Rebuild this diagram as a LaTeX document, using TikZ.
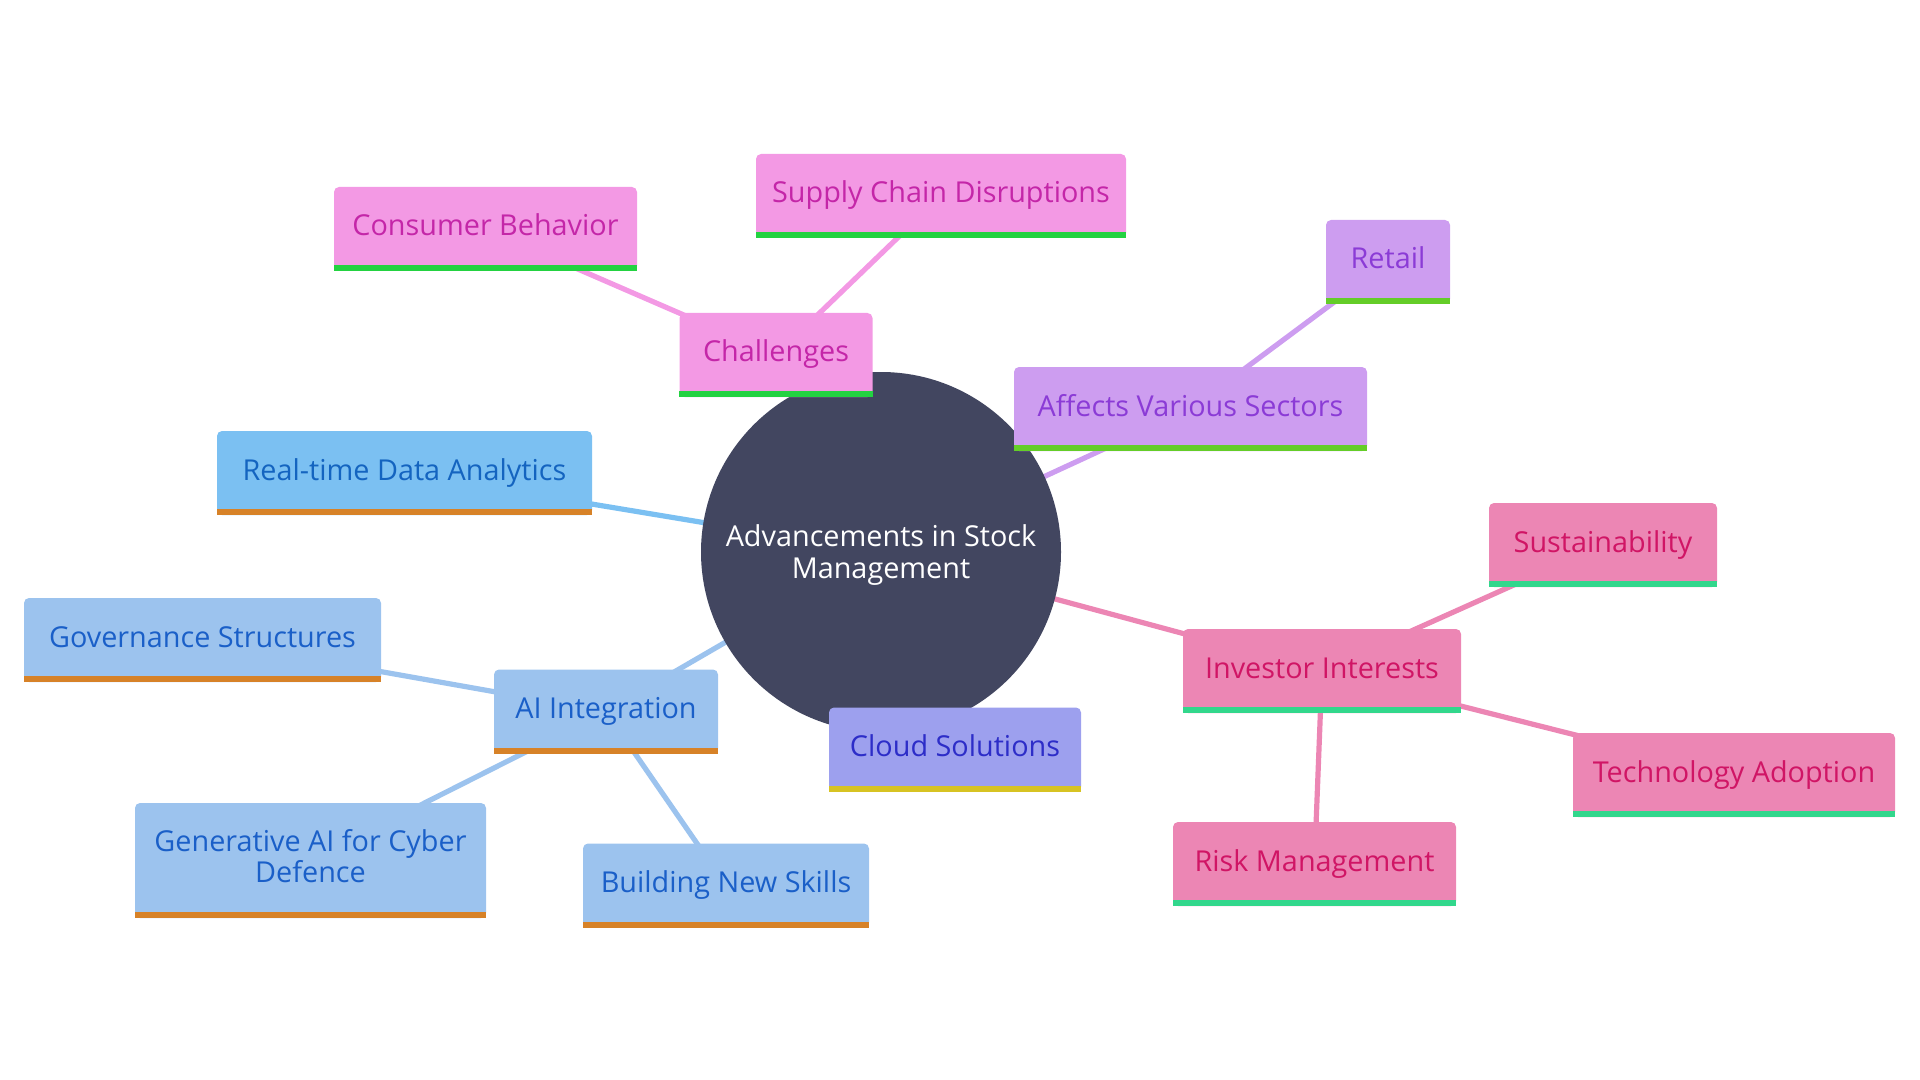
\documentclass[tikz,border=0pt]{standalone}
\usepackage{fontspec}
\setmainfont{Open Sans}
\definecolor{hub}{RGB}{66,70,96}
\definecolor{pinkF}{RGB}{243,153,228}
\definecolor{pinkT}{RGB}{196,38,168}
\definecolor{pinkB}{RGB}{35,210,65}
\definecolor{purF}{RGB}{205,157,240}
\definecolor{purT}{RGB}{139,59,214}
\definecolor{purB}{RGB}{100,205,40}
\definecolor{rtF}{RGB}{123,192,242}
\definecolor{rtT}{RGB}{20,100,192}
\definecolor{aiF}{RGB}{156,195,238}
\definecolor{aiT}{RGB}{26,95,200}
\definecolor{orB}{RGB}{215,130,40}
\definecolor{clF}{RGB}{157,160,238}
\definecolor{clT}{RGB}{45,45,200}
\definecolor{clB}{RGB}{215,195,35}
\definecolor{invF}{RGB}{236,134,180}
\definecolor{invT}{RGB}{208,21,101}
\definecolor{invB}{RGB}{50,215,140}
\pgfdeclarelayer{edges}
\pgfsetlayers{edges,main}
\begin{document}
\begin{tikzpicture}[x=0.5pt,y=-0.5pt,
  box/.style={rectangle, rounded corners=2.5pt, inner sep=0pt, minimum height=42pt,
    align=center, font=\fontsize{14.4pt}{15.7pt}\selectfont, text height=10pt, text depth=3pt},
  pinkbox/.style={box, fill=pinkF, text=pinkT},
  purbox/.style={box, fill=purF, text=purT},
  rtbox/.style={box, fill=rtF, text=rtT},
  aibox/.style={box, fill=aiF, text=aiT},
  clbox/.style={box, fill=clF, text=clT},
  invbox/.style={box, fill=invF, text=invT},
  edge/.style={line width=2.6pt},
  hubnode/.style={circle, fill=hub, text=white, inner sep=0pt, minimum size=180pt,
    align=center, font=\fontsize{14.4pt}{16pt}\selectfont, text height=29.5pt, text depth=3.5pt}
]
\useasboundingbox (0,0) rectangle (1920,1080);

\node[hubnode] (c) at (881,552) {Advancements in Stock\\Management};

\node[pinkbox, minimum width=96.5pt] (ch) at (776,355) {Challenges};
\node[pinkbox, minimum width=151.5pt] (cb) at (485.5,229) {Consumer Behavior};
\node[pinkbox, minimum width=185pt] (sc) at (941,196) {Supply Chain Disruptions};

\node[purbox, minimum width=62pt] (re) at (1388,262) {Retail};
\node[purbox, minimum width=176.5pt] (af) at (1190.5,409) {Affects Various Sectors};

\node[rtbox, minimum width=187.5pt] (rt) at (404.5,473) {Real-time Data Analytics};

\node[aibox, minimum width=178.5pt] (gov) at (202.5,640) {Governance Structures};
\node[aibox, minimum width=112pt] (ai) at (606,711.5) {AI Integration};
\node[aibox, minimum width=175.5pt, minimum height=57.5pt, text height=25pt, text depth=3pt] (gen) at (310.5,860.5) {Generative AI for Cyber\\Defence};
\node[aibox, minimum width=143pt] (bns) at (726,885.5) {Building New Skills};

\node[clbox, minimum width=126pt] (cl) at (955,749.5) {Cloud Solutions};

\node[invbox, minimum width=139pt] (inv) at (1322,671) {Investor Interests};
\node[invbox, minimum width=114pt] (sus) at (1603,545) {Sustainability};
\node[invbox, minimum width=161pt] (tech) at (1734,775) {Technology Adoption};
\node[invbox, minimum width=141.5pt] (risk) at (1314.5,864) {Risk Management};

\foreach \n/\b in {ch/pinkB, cb/pinkB, sc/pinkB, re/purB, af/purB, rt/orB, gov/orB, ai/orB, gen/orB, bns/orB, cl/clB, inv/invB, sus/invB, tech/invB, risk/invB}
  \fill[\b] (\n.south west) rectangle ([yshift=3pt]\n.south east);

\begin{pgfonlayer}{edges}
\draw[edge, pinkF] (c.center) -- (ch.center);
\draw[edge, pinkF] (ch.center) -- (cb.center);
\draw[edge, pinkF] (ch.center) -- (sc.center);
\draw[edge, purF] (c.center) -- (af.center);
\draw[edge, purF] (af.center) -- (re.center);
\draw[edge, rtF] (c.center) -- (rt.center);
\draw[edge, aiF] (c.center) -- (ai.center);
\draw[edge, aiF] (ai.center) -- (gov.center);
\draw[edge, aiF] (ai.center) -- (gen.center);
\draw[edge, aiF] (ai.center) -- (bns.center);
\draw[edge, clF] (c.center) -- (cl.center);
\draw[edge, invF] (c.center) -- (inv.center);
\draw[edge, invF] (inv.center) -- (sus.center);
\draw[edge, invF] (inv.center) -- (tech.center);
\draw[edge, invF] (inv.center) -- (risk.center);
\end{pgfonlayer}
\end{tikzpicture}
\end{document}
